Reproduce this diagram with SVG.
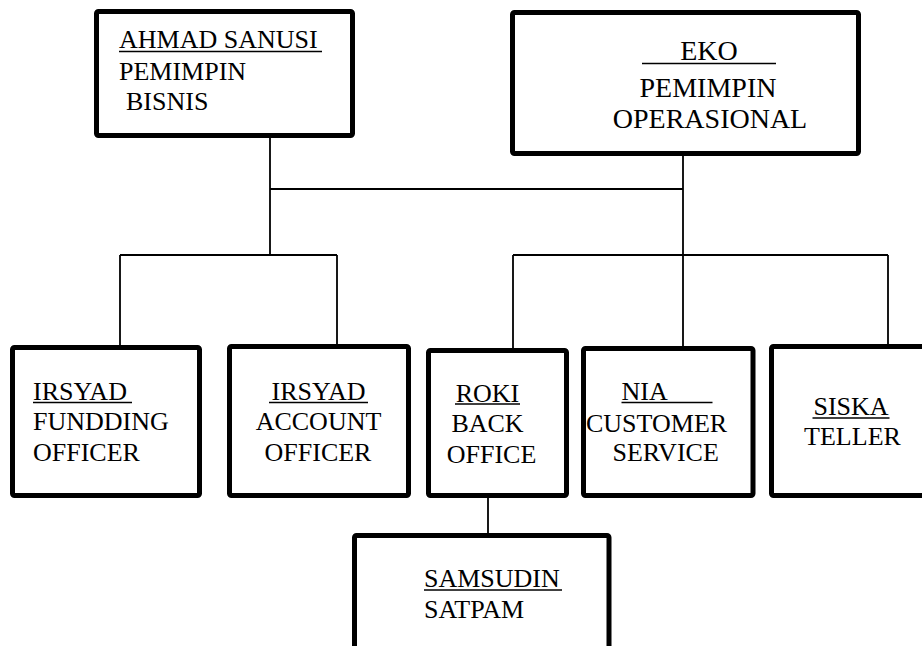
<svg xmlns="http://www.w3.org/2000/svg" width="922" height="646" viewBox="0 0 922 646">
<style>
.box{fill:#fff;stroke:#000;stroke-width:5;}
.c{fill:none;stroke:#000;stroke-width:1.8;}
.u{stroke:#000;stroke-width:1.6;}
.t{font-family:'Liberation Serif','Times New Roman',serif;font-size:26px;fill:#000;}
.big{font-size:28px;}
.m{text-anchor:middle;}
</style>
<rect width="922" height="646" fill="#fff"/>
<g id="connectors">
<path class="c" d="M270 138V255M270 189H683M683 150V348M120 255H337M120 255V346M337 255V345M513 255H888M513 255V349M888 255V345M488 497V535"/>
</g>
<g id="ahmad" class="t">
<rect class="box" x="96.5" y="11.5" width="256" height="124" rx="2"/>
<text x="119" y="48">AHMAD SANUSI</text>
<line class="u" x1="119" y1="51.5" x2="322" y2="51.5"/>
<text x="119" y="80">PEMIMPIN</text>
<text x="126" y="110">BISNIS</text>
</g>
<g id="eko" class="t big">
<rect class="box" x="512.5" y="12.5" width="346" height="141" rx="2"/>
<text class="m" x="709" y="60">EKO</text>
<line class="u" x1="642" y1="63.5" x2="776" y2="63.5"/>
<text class="m" x="708" y="96.5">PEMIMPIN</text>
<text class="m" x="710" y="128">OPERASIONAL</text>
</g>
<g id="irsyad-funding" class="t">
<rect class="box" x="12.5" y="347.5" width="187" height="148" rx="2"/>
<text x="33" y="400">IRSYAD</text>
<line class="u" x1="33" y1="402.5" x2="132" y2="402.5"/>
<text x="33" y="430">FUNDDING</text>
<text x="33" y="461">OFFICER</text>
</g>
<g id="irsyad-account" class="t">
<rect class="box" x="229.5" y="346.5" width="179" height="149" rx="2"/>
<text class="m" x="318.5" y="400">IRSYAD</text>
<line class="u" x1="269" y1="402.5" x2="368" y2="402.5"/>
<text class="m" x="318.5" y="430">ACCOUNT</text>
<text class="m" x="318" y="461">OFFICER</text>
</g>
<g id="roki" class="t">
<rect class="box" x="428.5" y="350.5" width="138" height="145" rx="2"/>
<text class="m" x="487.5" y="401.5">ROKI</text>
<line class="u" x1="455" y1="404" x2="520" y2="404"/>
<text class="m" x="487.5" y="431.5">BACK</text>
<text class="m" x="491.5" y="463">OFFICE</text>
</g>
<g id="nia" class="t">
<rect class="box" x="583.5" y="348.5" width="169.5" height="147" rx="2"/>
<text x="621.5" y="400">NIA</text>
<line class="u" x1="621.5" y1="402.5" x2="712.5" y2="402.5"/>
<text x="586" y="431.5">CUSTOMER</text>
<text x="612.5" y="460.5">SERVICE</text>
</g>
<g id="siska" class="t">
<rect class="box" x="771.5" y="346.5" width="165" height="149" rx="2"/>
<text class="m" x="851" y="415">SISKA</text>
<line class="u" x1="812.5" y1="418" x2="889.5" y2="418"/>
<text class="m" x="852.5" y="445">TELLER</text>
</g>
<g id="samsudin" class="t">
<rect class="box" x="354.5" y="535.5" width="254.5" height="140" rx="2"/>
<text x="424" y="587">SAMSUDIN</text>
<line class="u" x1="424" y1="590" x2="562" y2="590"/>
<text x="424" y="618">SATPAM</text>
</g>
</svg>
